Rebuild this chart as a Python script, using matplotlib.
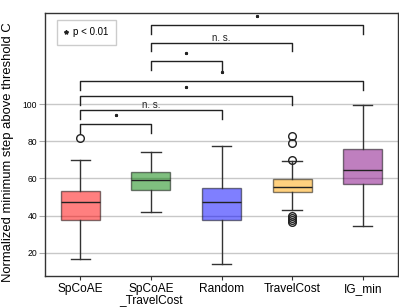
import matplotlib
matplotlib.use("Agg")
import matplotlib.pyplot as plt
from matplotlib.lines import Line2D

plt.rcParams['font.family'] = ['Liberation Sans', 'DejaVu Sans']

categories = ["SpCoAE", "SpCoAE\n_TravelCost", "Random", "TravelCost", "IG_min"]
colors = ["red", "green", "blue", "orange", "purple"]
whislo = [16.6, 42.0, 14.2, 43.2, 34.6]
q1 = [37.7, 53.8, 37.5, 52.5, 56.8]
medians = [47.2, 59.3, 47.2, 55.5, 64.5]
q3 = [53.5, 63.6, 54.6, 59.5, 75.8]
whishi = [69.9, 74.3, 77.6, 69.3, 99.7]
fliers = [[81.6], [], [], [82.8, 78.8, 70.0, 39.6, 38.5, 37.4, 36.6], []]

# significance brackets: (left index, right index, height, label)
br_left = [0, 0, 0, 0, 1, 1, 1]
br_right = [1, 2, 3, 4, 2, 3, 4]
br_height = [89.4, 96.9, 104.5, 112.6, 123.2, 133.1, 142.7]
br_label = ["*", "n. s.", "*", "*", "*", "n. s.", "*"]

yticks = [20, 40, 60, 80, 100]

fig = plt.figure(figsize=(3.99, 3.08), dpi=100)
ax = fig.add_axes([0.1128, 0.1039, 0.8847, 0.8539])

stats = []
for i in range(len(categories)):
    stats.append(dict(med=medians[i], q1=q1[i], q3=q3[i], whislo=whislo[i],
                      whishi=whishi[i], fliers=fliers[i], label=categories[i]))

bp = ax.bxp(stats, positions=range(len(categories)), widths=0.55, patch_artist=True,
            boxprops=dict(edgecolor='black', linewidth=1.0),
            medianprops=dict(color='#222222', linewidth=1.0),
            whiskerprops=dict(color='#333333', linewidth=1.0),
            capprops=dict(color='#333333', linewidth=1.0),
            flierprops=dict(marker='o', markerfacecolor='none', markeredgecolor='#222222',
                            markersize=5.5, markeredgewidth=1.0))
for patch, c in zip(bp['boxes'], colors):
    patch.set_facecolor(c)
    patch.set_alpha(0.5)

tick_h = 4.8
for l, r, h, lab in zip(br_left, br_right, br_height, br_label):
    ax.plot([l, l, r, r], [h - tick_h, h, h, h - tick_h], color='#222222', lw=1.0)
    xm = (l + r) / 2
    if lab == "*":
        ax.plot([xm], [h + 4.5], marker='*', ms=2.0, color='#222222', ls='none')
    else:
        ax.text(xm, h + 0.8, lab, ha='center', va='baseline', fontsize=7, color='#222222')

ax.set_xlim(-0.5, 4.5)
ax.set_ylim(7.5, 149)
ax.set_yticks(yticks)
ax.set_xticks(range(len(categories)))
ax.set_xticklabels(categories, fontsize=8.6, linespacing=0.9)
ax.tick_params(axis='y', labelsize=6.2, length=4, color='#aaaaaa', pad=1.5)
ax.tick_params(axis='x', length=3, color='#333333', pad=2)
ax.yaxis.grid(True, color='#c8c8c8', lw=1.0)
ax.set_axisbelow(True)
for s in ax.spines.values():
    s.set_color('#333333')
    s.set_linewidth(1.0)

ax.set_ylabel("Normalized minimum step above threshold C", fontsize=9.4)
ax.yaxis.set_label_coords(-0.087, 0.47)

h = Line2D([], [], ls='none', marker='*', ms=3, color='#222222')
ax.legend([h], ["p < 0.01"], loc='upper left', bbox_to_anchor=(0.034, 0.973),
          borderaxespad=0, fontsize=7, handlelength=0.4, handletextpad=0.5,
          borderpad=0.75, fancybox=False, edgecolor='#cccccc', framealpha=1)

fig.savefig("out.png", dpi=100)
